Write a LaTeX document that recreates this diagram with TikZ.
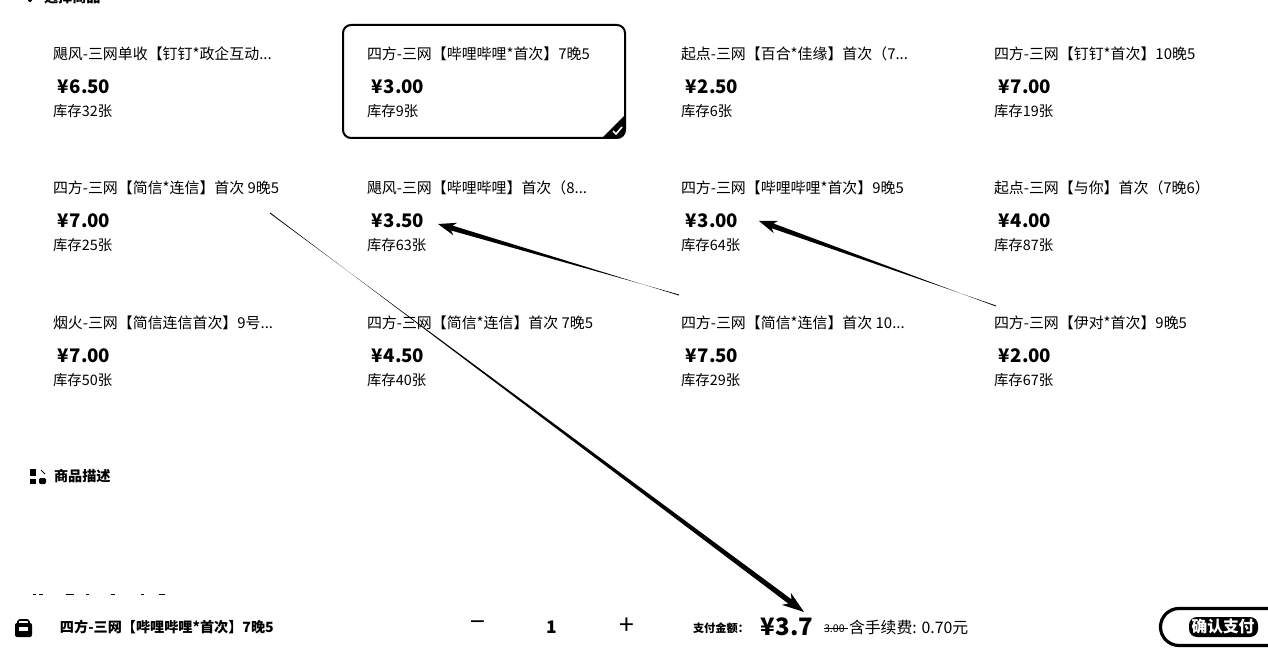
\documentclass[tikz,border=0pt]{standalone}
\usepackage{fontspec}
\setmainfont{Noto Sans CJK SC}
\usetikzlibrary{calc}
\tikzset{
  x=0.75pt,y=-0.75pt,
  txt/.style={anchor=base west,inner sep=0pt,outer sep=0pt,text=black},
  titletxt/.style={txt,font=\fontsize{11.2pt}{13pt}\selectfont},
  pricetxt/.style={txt,font=\fontsize{14pt}{16pt}\selectfont\bfseries},
  stocktxt/.style={txt,font=\fontsize{10.8pt}{12pt}\selectfont},
  boldtxt/.style={txt,font=\fontsize{10.6pt}{12pt}\selectfont\bfseries},
}
\newcommand{\card}[6]{%
  \node[titletxt] (#1t) at (#2,#3+7) {#4};
  \node[pricetxt] (#1p) at (#2+4,#3+41) {¥\kern1pt#5};
  \node[stocktxt] (#1s) at (#2,#3+64) {库存#6张};
}
% tapered connector: thin at #1, thick at #2, arrow head of length #3, half width #4, neck half width #5
\newcommand{\taper}[5]{%
  \coordinate (hb) at ($(#2)!#3*0.75pt!(#1)$);
  \coordinate (hn) at ($(#2)!#3*0.6pt!(#1)$);
  \fill[black] ($(#1)!0.35pt!90:(#2)$) -- ($(hn)!#5!-90:(#2)$)
    -- ($(hb)!#4*0.75pt!-90:(#2)$) -- (#2) -- ($(hb)!#4*0.75pt!90:(#2)$)
    -- ($(hn)!#5!90:(#2)$) -- ($(#1)!0.35pt!-90:(#2)$) -- cycle;
}
\begin{document}
\begin{tikzpicture}
\useasboundingbox (0,0) rectangle (1268,652);
\clip (0,0) rectangle (1268,652);
\fill[white] (0,0) rectangle (1268,652);
% clipped heading
\fill[black] (30,0) circle[radius=2];
\node[boldtxt] (head) at (44,3) {选择商品};
% selected card
\draw[black,line width=1.5pt,rounded corners=6pt] (343,25) rectangle (625,138);
\fill[black] (603,137) -- (625,115) -- (625,130) arc[start angle=0,end angle=90,radius=8] -- cycle;
\draw[white,line width=1.2pt] (613,131) -- (616,134) -- (622,127);
% cards
\card{a}{53}{53}{飓风-三网单收【钉钉*政企互动...}{6.50}{32}
\card{b}{367}{53}{四方-三网【哔哩哔哩*首次】7晚5}{3.00}{9}
\card{c}{681}{53}{起点-三网【百合*佳缘】首次（7...}{2.50}{6}
\card{d}{994}{53}{四方-三网【钉钉*首次】10晚5}{7.00}{19}
\card{e}{53}{187}{四方-三网【简信*连信】首次 9晚5}{7.00}{25}
\card{f}{367}{187}{飓风-三网【哔哩哔哩】首次（8...}{3.50}{63}
\card{g}{681}{187}{四方-三网【哔哩哔哩*首次】9晚5}{3.00}{64}
\card{h}{994}{187}{起点-三网【与你】首次（7晚6）}{4.00}{87}
\card{i}{53}{322}{烟火-三网【简信连信首次】9号...}{7.00}{50}
\card{j}{367}{322}{四方-三网【简信*连信】首次 7晚5}{4.50}{40}
\card{k}{681}{322}{四方-三网【简信*连信】首次 10...}{7.50}{29}
\card{l}{994}{322}{四方-三网【伊对*首次】9晚5}{2.00}{67}
% description heading
\fill[black] (30,469) rectangle (36,476);
\fill[black] (30,479) rectangle (36,484);
\fill[black,rounded corners=1pt] (39,478) rectangle (46,484);
\draw[black,line width=0.6pt] (41,470) -- (45,474);
\node[txt,font=\fontsize{10.6pt}{12pt}\selectfont\bfseries] (desc) at (54,481) {商品描述};
% clipped next heading
\foreach \a/\b in {33/36,39/43,66/74,86/89,111/115,141/144,159/165}
  \draw[black,line width=0.6pt] (\a,594) -- (\b,594);
% bottom bar
\draw[black,line width=1.2pt,rounded corners=1.5pt] (18,624) -- (18,620) -- (29,620) -- (29,624);
\fill[black,rounded corners=1.5pt] (15,623) rectangle (32,637);
\fill[white] (19,627) rectangle (28,631);
\node[boldtxt] (sel) at (60,632) {四方-三网【哔哩哔哩*首次】7晚5};
\node[anchor=center,inner sep=0pt,font=\fontsize{20pt}{20pt}\selectfont] (minus) at (478,626) {−};
\node[anchor=center,inner sep=0pt,font=\fontsize{13pt}{16pt}\selectfont\bfseries] (qty) at (552,627) {1};
\node[anchor=center,inner sep=0pt,font=\fontsize{20pt}{20pt}\selectfont] (plus) at (627,626) {+};
\node[txt,font=\fontsize{8.4pt}{10pt}\selectfont\bfseries] (paylbl) at (693,632) {支付金额：};
\node[txt,font=\fontsize{18pt}{20pt}\selectfont\bfseries] (amount) at (760,635) {¥\kern1pt3.7};
\node[txt,font=\fontsize{8pt}{10pt}\selectfont] (old) at (824,632) {3.00};
\draw[black,line width=0.5pt] (824,628) -- (848,628);
\node[txt,font=\fontsize{11.9pt}{13pt}\selectfont] (fee) at (849,633) {含手续费: 0.70元};
% button
\draw[black,line width=2.4pt] (1290,608.5) -- (1179,608.5) arc[start angle=270,end angle=90,radius=18.5] -- (1290,645.5);
\fill[black,rounded corners=6pt] (1189,617) rectangle (1258,637);
\node[anchor=center,inner sep=0pt,text=white,font=\fontsize{11.8pt}{13pt}\selectfont\bfseries] (pay) at (1223,627) {确认支付};
% connectors
\coordinate (s1) at (270,213);
\coordinate (e1) at (804,612);
\coordinate (s2) at (679,295);
\coordinate (e2) at (438,224);
\coordinate (s3) at (996,306);
\coordinate (e3) at (759,221);
\taper{s1}{e1}{22}{7.5}{2pt}
\taper{s2}{e2}{18}{6.5}{1.9pt}
\taper{s3}{e3}{18}{6.5}{1.9pt}
\end{tikzpicture}
\end{document}
